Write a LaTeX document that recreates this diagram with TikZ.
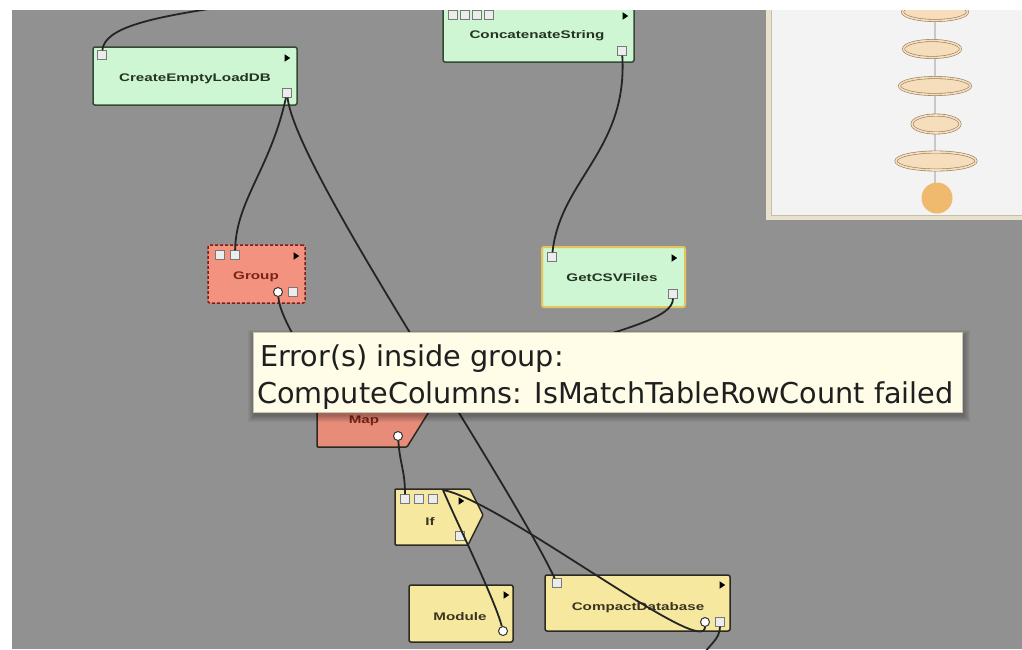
\documentclass[tikz,border=0pt]{standalone}
\usepackage{fontspec}
\usepackage{graphicx}
\setmainfont{Liberation Sans}
\newfontfamily\tipfont{DejaVu Sans}
\usetikzlibrary{shapes.geometric}
\definecolor{bg}{RGB}{145,145,145}
\definecolor{greenfill}{RGB}{206,246,210}
\definecolor{greenline}{RGB}{52,74,52}
\definecolor{greentext}{RGB}{35,52,35}
\definecolor{redfill}{RGB}{243,146,126}
\definecolor{mapfill}{RGB}{232,140,122}
\definecolor{redline}{RGB}{130,28,20}
\definecolor{redtext}{RGB}{120,36,24}
\definecolor{yelfill}{RGB}{246,232,158}
\definecolor{yelline}{RGB}{44,42,32}
\definecolor{yeltext}{RGB}{58,53,34}
\definecolor{gold}{RGB}{228,196,92}
\definecolor{wire}{RGB}{36,36,36}
\definecolor{portfill}{RGB}{236,236,236}
\definecolor{portline}{RGB}{120,120,120}
\definecolor{tipfill}{RGB}{255,253,232}
\definecolor{tipline}{RGB}{200,198,176}
\definecolor{mmbeige}{RGB}{232,226,204}
\definecolor{mmwhite}{RGB}{243,243,243}
\definecolor{mmline}{RGB}{196,190,170}
\definecolor{mmgray}{RGB}{200,200,200}
\definecolor{ellfill}{RGB}{246,222,188}
\definecolor{ellline}{RGB}{150,126,96}
\definecolor{mmorange}{RGB}{240,186,110}
\newcommand{\nt}[1]{\scalebox{1.38}[1]{\fontsize{11}{13}\selectfont\bfseries #1}}
\tikzset{
  box/.style={rectangle, rounded corners=2pt, inner sep=0pt, line width=1.5pt},
  greennode/.style={box, fill=greenfill, draw=greenline},
  goldnode/.style={box, fill=greenfill, draw=gold, line width=2pt},
  groupnode/.style={box, fill=redfill, draw=redline, dash pattern=on 3pt off 2pt},
  yelnode/.style={box, fill=yelfill, draw=yelline},
  sqport/.style={rectangle, minimum size=8.5pt, inner sep=0pt, fill=portfill, draw=portline, line width=0.7pt},
  cport/.style={circle, minimum size=9pt, inner sep=0pt, fill=white, draw=black!80, line width=1pt},
  wireline/.style={draw=wire, line width=1.8pt},
  mmell/.style={ellipse, inner sep=0pt, fill=ellfill, draw=ellline, line width=0.6pt, double=ellfill, double distance=1.6pt},
  tri/.pic={\fill[black] (-2.5,-3.8) -- (3.2,0) -- (-2.5,3.8) -- cycle;},
  gtext/.style={text=greentext, inner sep=0pt},
  rtext/.style={text=redtext, inner sep=0pt},
  ytext/.style={text=yeltext, inner sep=0pt}
}
\begin{document}
\begin{tikzpicture}[x=1pt,y=-1pt]
\clip (0,0) rectangle (1022,649);
\fill[bg] (0,0) rectangle (1022,649);

% minimap
\fill[mmbeige] (766,0) rectangle (1030,220);
\filldraw[fill=mmwhite, draw=mmline, line width=0.8pt] (771,-5) rectangle (1030,215);
\draw[mmgray, line width=2pt] (935,0) -- (935,198);
\node[mmell, minimum width=65pt, minimum height=17pt] (mm1) at (935,12) {};
\node[mmell, minimum width=57pt, minimum height=17pt] (mm2) at (932,49) {};
\node[mmell, minimum width=71pt, minimum height=17pt] (mm3) at (935,86) {};
\node[mmell, minimum width=48pt, minimum height=18pt] (mm4) at (936,124) {};
\node[mmell, minimum width=80pt, minimum height=18pt] (mm5) at (936,161) {};
\node[circle, fill=mmorange, minimum size=31pt, inner sep=0pt] (mm6) at (937,198) {};

% nodes
\node[greennode, minimum width=204pt, minimum height=58pt] (cel) at (195,76) {};
\node[gtext] (celt) at (195,79) {\nt{CreateEmptyLoadDB}};
\node[greennode, minimum width=191pt, minimum height=56pt] (cs) at (538.5,34) {};
\node[gtext] (cst) at (537,36) {\nt{ConcatenateString}};
\node[groupnode, minimum width=97pt, minimum height=58pt] (gr) at (256.5,274) {};
\node[rtext] (grt) at (256,277) {\nt{Group}};
\node[goldnode, minimum width=143pt, minimum height=60pt] (gc) at (613.5,277) {};
\node[gtext] (gct) at (612,278) {\nt{GetCSVFiles}};
\filldraw[fill=mapfill, draw=yelline, line width=1.5pt, rounded corners=1pt] (317,385) -- (412,385) -- (430,410) -- (407,447) -- (317,447) -- cycle;
\node[rtext] (mapt) at (364,421) {\nt{Map}};
\filldraw[fill=yelfill, draw=yelline, line width=1.5pt, rounded corners=1pt] (395,489) -- (470,489) -- (483,515) -- (468,545) -- (395,545) -- cycle;
\node[ytext] (ift) at (430,522) {\nt{If}};
\node[yelnode, minimum width=104pt, minimum height=57pt] (mod) at (461,613.5) {};
\node[ytext] (modt) at (460,617) {\nt{Module}};
\node[yelnode, minimum width=185pt, minimum height=56pt] (cd) at (637.5,603) {};
\node[ytext] (cdt) at (638,608) {\nt{CompactDatabase}};

% ports
\node[sqport] (celin) at (102,55) {};
\node[sqport] (celout) at (287,93) {};
\pic at (287,58) {tri};
\node[sqport] (cs1) at (453,15) {};
\node[sqport] (cs2) at (465,15) {};
\node[sqport] (cs3) at (477,15) {};
\node[sqport] (cs4) at (489,15) {};
\pic at (625,16) {tri};
\node[sqport] (csout) at (622,51) {};
\node[sqport] (grin1) at (220,255) {};
\node[sqport] (grin2) at (235,255) {};
\pic at (296,256) {tri};
\node[cport] (grout) at (278,292) {};
\node[sqport] (grsq) at (293,292) {};
\node[sqport] (gcin) at (552,257) {};
\pic at (674,258) {tri};
\node[sqport] (gcout) at (673,294) {};
\node[cport] (mapout) at (398,436) {};
\node[sqport] (ifin1) at (405,499) {};
\node[sqport] (ifin2) at (419,499) {};
\node[sqport] (ifin3) at (433,499) {};
\pic at (461,501) {tri};
\node[sqport] (ifout) at (460,536) {};
\pic at (506,595) {tri};
\node[cport] (modin) at (503,631) {};
\node[sqport] (cdin) at (557,583) {};
\pic at (722,585) {tri};
\node[cport] (cdc) at (705,622) {};
\node[sqport] (cdsq) at (720,622) {};

% connectors
\coordinate (topsrc) at (215,8);
\coordinate (csvend) at (560,350);
\coordinate (mapin) at (327,398);
\coordinate (ifsrc) at (443,490);
\coordinate (offbot) at (703,656);
\draw[wireline] (topsrc) .. controls (150,18) and (104,28) .. (celin);
\draw[wireline] (celout) .. controls (270,170) and (236,200) .. (grin2);
\draw[wireline] (celout) .. controls (296,170) and (500,465) .. (cdin);
\draw[wireline] (csout) .. controls (628,150) and (560,180) .. (gcin);
\draw[wireline] (gcout) .. controls (673,318) and (625,328) .. (csvend);
\draw[wireline] (grout) .. controls (280,320) and (310,360) .. (mapin);
\draw[wireline] (mapout) .. controls (400,465) and (405,470) .. (ifin1);
\draw[wireline] (ifsrc) .. controls (458,525) and (495,600) .. (modin);
\draw[wireline] (ifsrc) .. controls (500,500) and (705,660) .. (cdc);
\draw[wireline] (cdsq) .. controls (720,640) and (708,645) .. (offbot);

% tooltip
\foreach \i in {1,...,7} {
  \fill[black, opacity=0.045] (253-\i+2,332-\i+5) rectangle (962+\i+1,412+\i+3);
}
\node[rectangle, fill=tipfill, draw=tipline, line width=0.6pt, minimum width=709pt, minimum height=80pt, anchor=north west, inner sep=0pt] (tip) at (253,332) {};
\node[anchor=base west, inner sep=0pt, font=\tipfont\fontsize{28.7}{34}\selectfont, text=black!88] (tip1) at (260,366) {Error(s) inside group:};
\node[anchor=base west, inner sep=0pt, font=\tipfont\fontsize{28.7}{34}\selectfont, text=black!88] (tip2) at (257,403) {ComputeColumns: IsMatchTableRowCount failed};

% white margins
\fill[white] (0,0) rectangle (1022,10);
\fill[white] (0,0) rectangle (12,649);
\end{tikzpicture}
\end{document}
